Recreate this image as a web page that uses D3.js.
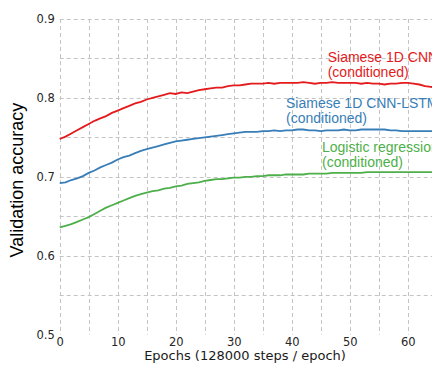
<!DOCTYPE html>
<html>
<head>
<meta charset="utf-8">
<script src="https://cdn.jsdelivr.net/npm/d3@7"></script>
<style>
  html, body { margin: 0; padding: 0; background: #fff; }
  svg { display: block; }
</style>
</head>
<body>
<svg id="chart" width="432" height="367"></svg>
<script>
// epochs 0..65, one validation accuracy value per epoch
const epochs = d3.range(0, 66);

const cnnAcc = [
  0.748, 0.751, 0.755, 0.759, 0.763, 0.767, 0.771, 0.774, 0.777, 0.781,
  0.784, 0.787, 0.790, 0.793, 0.795, 0.798, 0.800, 0.802, 0.804, 0.806,
  0.805, 0.807, 0.806, 0.808, 0.810, 0.811, 0.812, 0.813, 0.813, 0.815,
  0.816, 0.816, 0.817, 0.818, 0.818, 0.818, 0.819, 0.818, 0.819, 0.819,
  0.819, 0.819, 0.820, 0.819, 0.818, 0.819, 0.819, 0.820, 0.819, 0.819,
  0.819, 0.819, 0.818, 0.819, 0.818, 0.818, 0.817, 0.818, 0.818, 0.819,
  0.819, 0.818, 0.817, 0.815, 0.814, 0.813
];

const lstmAcc = [
  0.692, 0.693, 0.696, 0.698, 0.701, 0.705, 0.708, 0.712, 0.715, 0.718,
  0.722, 0.725, 0.727, 0.730, 0.733, 0.735, 0.737, 0.739, 0.741, 0.743,
  0.745, 0.746, 0.747, 0.748, 0.749, 0.750, 0.751, 0.752, 0.753, 0.754,
  0.755, 0.756, 0.757, 0.757, 0.757, 0.758, 0.758, 0.759, 0.758, 0.759,
  0.759, 0.760, 0.760, 0.759, 0.759, 0.758, 0.759, 0.759, 0.759, 0.760,
  0.759, 0.759, 0.760, 0.760, 0.760, 0.760, 0.760, 0.759, 0.759, 0.758,
  0.758, 0.758, 0.758, 0.758, 0.758, 0.758
];

const logregAcc = [
  0.636, 0.638, 0.640, 0.643, 0.646, 0.649, 0.653, 0.657, 0.661, 0.664,
  0.667, 0.670, 0.673, 0.676, 0.678, 0.680, 0.682, 0.683, 0.685, 0.686,
  0.688, 0.689, 0.691, 0.692, 0.693, 0.695, 0.696, 0.697, 0.697, 0.698,
  0.699, 0.699, 0.700, 0.700, 0.701, 0.701, 0.702, 0.702, 0.702, 0.703,
  0.703, 0.703, 0.703, 0.704, 0.704, 0.704, 0.704, 0.705, 0.705, 0.705,
  0.705, 0.705, 0.705, 0.706, 0.706, 0.706, 0.706, 0.706, 0.706, 0.706,
  0.706, 0.706, 0.706, 0.706, 0.706, 0.706
];

const seriesNames = [
  ['Siamese 1D CNN', '(conditioned)'],
  ['Siamese 1D CNN-LSTM', '(conditioned)'],
  ['Logistic regression', '(conditioned)']
];
const seriesColors = ['#e41a1c', '#377eb8', '#4daf4a'];
const xTicks = [0, 10, 20, 30, 40, 50, 60];
const yTicks = [0.5, 0.6, 0.7, 0.8, 0.9];

const series = [cnnAcc, lstmAcc, logregAcc];

const svg = d3.select('#chart');
const plotLeft = 59.7, plotRight = 432, plotTop = 19, plotBottom = 334.7;

const x = d3.scaleLinear().domain([0, (plotRight - plotLeft) / 5.8]).range([plotLeft, plotRight]);
const y = d3.scaleLinear().domain([0.5, 0.9]).range([plotBottom, plotTop]);

// dashed grid every 5 epochs and every 0.05
const grid = svg.append('g')
  .attr('stroke', '#c4c4c4')
  .attr('stroke-width', 1)
  .attr('stroke-dasharray', '4,3');

grid.selectAll('.vg')
  .data(d3.range(0, 70, 5))
  .join('line')
  .attr('x1', d => Math.round(x(d)) + 0.5)
  .attr('x2', d => Math.round(x(d)) + 0.5)
  .attr('y1', plotTop)
  .attr('y2', plotBottom);

grid.selectAll('.hg')
  .data(d3.range(0.55, 0.91, 0.05))
  .join('line')
  .attr('x1', plotLeft)
  .attr('x2', plotRight)
  .attr('y1', d => Math.round(y(d)) + 0.5)
  .attr('y2', d => Math.round(y(d)) + 0.5);

// axes, tick labels only
const xAxis = svg.append('g')
  .attr('transform', `translate(0,${plotBottom})`)
  .call(d3.axisBottom(x).tickValues(xTicks).tickSize(0).tickPadding(3));
const yAxis = svg.append('g')
  .attr('transform', `translate(${plotLeft},0)`)
  .call(d3.axisLeft(y).tickValues(yTicks).tickSize(0).tickPadding(5).tickFormat(d3.format('.1f')));

[xAxis, yAxis].forEach(a => {
  a.select('.domain').remove();
  a.selectAll('text')
    .attr('fill', '#262626')
    .style('font-family', 'DejaVu Sans')
    .style('font-size', '11.5px');
});

svg.append('text')
  .attr('x', (plotLeft + 430.3) / 2)
  .attr('y', 360)
  .attr('text-anchor', 'middle')
  .attr('fill', '#1a1a1a')
  .style('font-family', 'DejaVu Sans')
  .style('font-size', '13px')
  .text('Epochs (128000 steps / epoch)');

svg.append('text')
  .attr('transform', 'translate(23.3,180) rotate(-90)')
  .attr('text-anchor', 'middle')
  .attr('fill', '#000')
  .style('font-family', 'Liberation Sans')
  .style('font-size', '18px')
  .text('Validation accuracy');

// lines
const line = d3.line()
  .x((d, i) => x(epochs[i]))
  .y(d => y(d));

series.forEach((s, i) => {
  svg.append('path')
    .attr('d', line(s))
    .attr('fill', 'none')
    .attr('stroke', seriesColors[i])
    .attr('stroke-width', 1.8);
});

// inline labels
const labelPos = [[327.7, 62], [286, 108.3], [322, 151.5]];

seriesNames.forEach((names, i) => {
  const t = svg.append('text')
    .attr('fill', seriesColors[i])
    .style('font-family', 'Liberation Sans')
    .style('font-size', '14px');
  names.forEach((n, j) => {
    t.append('tspan')
      .attr('x', labelPos[i][0])
      .attr('y', labelPos[i][1] + j * 15)
      .text(n);
  });
});
</script>
</body>
</html>
